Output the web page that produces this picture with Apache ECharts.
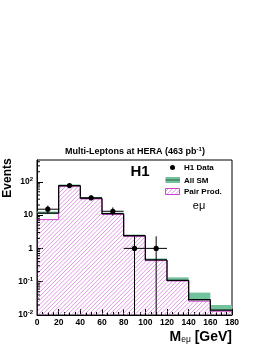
<!DOCTYPE html>
<html><head><meta charset="utf-8">
<script src="https://cdn.jsdelivr.net/npm/echarts@6/dist/echarts.min.js"></script>
<style>html,body{margin:0;padding:0;background:#fff}#c{width:270px;height:349px}</style>
</head><body><div id="c"></div>
<script>
// ---- data ----
const binLo = [0, 20, 40, 60, 80, 100, 120, 140, 160];
const binHi = [20, 40, 60, 80, 100, 120, 140, 160, 180];
const allSM = [11.5, 76, 32, 11, 2.4, 0.45, 0.11, 0.029, 0.014];
const smBandLo = [10.7, 72, 30.5, 10.3, 2.25, 0.42, 0.104, 0.027, 0.013];
const smBandHi = [12.8, 83, 34, 11.8, 2.6, 0.50, 0.135, 0.047, 0.020];
const pairProd = [7.3, 73, 30.5, 10.5, 2.3, 0.43, 0.105, 0.026, 0.013];
const dataX = [10, 30, 50, 70, 90, 110];
const dataY = [15, 77, 33, 13, 1, 1];
const dataXErr = [10, 10, 10, 10, 10, 10];
const dataYLo = [11.2, 68.5, 27.5, 9.6, 0.001, 0.001];
const dataYHi = [19.2, 86, 39, 17, 2.3, 2.3];
const yMinorTicks = [0.02,0.03,0.04,0.05,0.06,0.07,0.08,0.09,0.2,0.3,0.4,0.5,0.6,0.7,0.8,0.9,2,3,4,5,6,7,8,9,20,30,40,50,60,70,80,90,200,300,400];
const yMin = 0.01, yMax = 450;

const FONT = 'Liberation Sans, Arial, Helvetica, sans-serif';
const HATCH_COLOR = '#d77fdb';
const HATCH_STEP = 4.2;

// diagonal "/" hatch lines clipped to a rectangle, globally aligned (pure styling)
function hatchLines(x, y, w, h) {
  const out = [];
  // lines satisfy X + Y = const; align const to multiples of HATCH_STEP
  const base = x + y + h;
  let k0 = Math.ceil((base - h) / HATCH_STEP) * HATCH_STEP - base; // smallest k >= -h aligned
  for (let k = k0; k <= w; k += HATCH_STEP) {
    const t0 = Math.max(0, -k), t1 = Math.min(h, w - k);
    if (t1 <= t0) continue;
    out.push({type: 'line', silent: true,
      shape: {x1: x + k + t0, y1: y + h - t0, x2: x + k + t1, y2: y + h - t1},
      style: {stroke: HATCH_COLOR, lineWidth: 0.8}});
  }
  return out;
}

const binData = binLo.map((lo, i) => [lo, binHi[i], allSM[i], smBandLo[i], smBandHi[i], pairProd[i], i === 0 ? yMin : allSM[i-1], i === 0 ? yMin : pairProd[i-1]]);
const ptsData = dataX.map((x, i) => [x, dataY[i], dataXErr[i], dataYLo[i], dataYHi[i]]);

const chart = echarts.init(document.getElementById('c'), null, {renderer: 'canvas'});

function supLabel(v) {
  const e = Math.round(Math.log10(v));
  if (e === 0) return '1';
  if (e === 1) return '10';
  return '10{sup|' + e + '}';
}

chart.setOption({
  animation: false,
  backgroundColor: '#fff',
  grid: {left: 37, right: 38, top: 160, bottom: 34, show: true, borderColor: '#000', borderWidth: 1, backgroundColor: 'transparent'},
  xAxis: {
    type: 'value', min: 0, max: 180, interval: 20,
    axisLine: {show: true, onZero: false, lineStyle: {color: '#000', width: 1}},
    axisTick: {show: true, inside: true, length: 6, lineStyle: {color: '#000'}},
    minorTick: {show: true, splitNumber: 4, length: 3, lineStyle: {color: '#000'}},
    splitLine: {show: false}, minorSplitLine: {show: false},
    axisLabel: {color: '#000', fontSize: 8.5, fontWeight: 'bold', fontFamily: FONT, margin: 3, showMinLabel: true, showMaxLabel: true, hideOverlap: false}
  },
  yAxis: {
    type: 'log', logBase: 10, min: yMin, max: yMax,
    axisLine: {show: true, onZero: false, lineStyle: {color: '#000', width: 1}},
    axisTick: {show: true, inside: true, length: 6, lineStyle: {color: '#000'}},
    splitLine: {show: false}, minorTick: {show: false},
    axisLabel: {
      color: '#000', fontSize: 8.5, fontWeight: 'bold', fontFamily: FONT, margin: 4,
      showMaxLabel: false, hideOverlap: false,
      formatter: function (v) {
        const e = Math.log10(v);
        if (Math.abs(e - Math.round(e)) > 1e-6) return '';
        return supLabel(v);
      },
      rich: {sup: {fontSize: 6, fontWeight: 'bold', fontFamily: FONT, verticalAlign: 'top', padding: [0, 0, 5, 0], color: '#000'}}
    }
  },
  series: [
    { // SM uncertainty band
      type: 'custom', clip: true, data: binData, z: 2,
      renderItem: function (params, api) {
        const p0 = api.coord([api.value(0), api.value(4)]);
        const p1 = api.coord([api.value(1), api.value(3)]);
        return {type: 'rect', shape: {x: p0[0], y: p0[1], width: p1[0] - p0[0], height: p1[1] - p0[1]}, style: {fill: '#72c29b'}};
      }
    },
    { // pair production hatched
      type: 'custom', clip: true, data: binData, z: 3,
      renderItem: function (params, api) {
        const p0 = api.coord([api.value(0), api.value(5)]);
        const p1 = api.coord([api.value(1), yMin]);
        return {type: 'group', children: hatchLines(p0[0], p0[1], p1[0] - p0[0], p1[1] - p0[1])};
      }
    },
    { // pair production outline
      type: 'custom', clip: true, data: binData, z: 4,
      renderItem: function (params, api) {
        const a = api.coord([api.value(0), api.value(7)]);
        const b = api.coord([api.value(0), api.value(5)]);
        const c = api.coord([api.value(1), api.value(5)]);
        return {type: 'polyline', shape: {points: [a, b, c]}, style: {fill: null, stroke: '#d040d0', lineWidth: 1}};
      }
    },
    { // All SM line
      type: 'custom', clip: true, data: binData, z: 5,
      renderItem: function (params, api) {
        const a = api.coord([api.value(0), api.value(6)]);
        const b = api.coord([api.value(0), api.value(2)]);
        const c = api.coord([api.value(1), api.value(2)]);
        return {type: 'polyline', shape: {points: [a, b, c]}, style: {fill: null, stroke: '#000', lineWidth: 1.2}};
      }
    },
    { // data points
      type: 'custom', clip: true, data: ptsData, z: 6,
      renderItem: function (params, api) {
        const x = api.value(0), y = api.value(1), ex = api.value(2);
        const c = api.coord([x, y]);
        const l = api.coord([x - ex, y]);
        const r = api.coord([x + ex, y]);
        const lo = api.coord([x, api.value(3)]);
        const hi = api.coord([x, api.value(4)]);
        return {type: 'group', children: [
          {type: 'line', shape: {x1: l[0], y1: l[1], x2: r[0], y2: r[1]}, style: {stroke: '#000', lineWidth: 1}},
          {type: 'line', shape: {x1: lo[0], y1: lo[1], x2: hi[0], y2: hi[1]}, style: {stroke: '#000', lineWidth: 1}},
          {type: 'circle', shape: {cx: c[0], cy: c[1], r: 2.6}, style: {fill: '#000'}}
        ]};
      }
    },
    { // y minor ticks
      type: 'custom', clip: false, data: yMinorTicks.map(v => [0, v]), z: 7,
      renderItem: function (params, api) {
        const p = api.coord([0, api.value(1)]);
        return {type: 'line', shape: {x1: p[0], y1: p[1], x2: p[0] + 3, y2: p[1]}, style: {stroke: '#000', lineWidth: 1}};
      }
    }
  ],
  graphic: [
    {type: 'text', x: 135, y: 152, style: {text: 'Multi-Leptons at HERA (463 pb{sup|-1})', align: 'center', verticalAlign: 'middle', fontSize: 9, fontWeight: 'bold', fontFamily: FONT, fill: '#000',
      rich: {sup: {fontSize: 6, fontWeight: 'bold', fontFamily: FONT, verticalAlign: 'top', padding: [0, 0, 5, 0], fill: '#000'}}}},
    {type: 'text', x: 8, y: 178, rotation: Math.PI / 2, style: {text: 'Events', align: 'center', verticalAlign: 'middle', fontSize: 12, fontWeight: 'bold', fontFamily: FONT, fill: '#000'}},
    {type: 'text', x: 232, y: 337, style: {text: 'M{sub|eμ} [GeV]', align: 'right', verticalAlign: 'middle', fontSize: 14, fontWeight: 'bold', fontFamily: FONT, fill: '#000',
      rich: {sub: {fontSize: 8.5, fontWeight: 'normal', fontFamily: FONT, verticalAlign: 'bottom', padding: [5, 0, 0, 0], fill: '#000'}}}},
    {type: 'text', x: 140, y: 172, style: {text: 'H1', align: 'center', verticalAlign: 'middle', fontSize: 15, fontWeight: 'bold', fontFamily: FONT, fill: '#000'}},
    {type: 'circle', shape: {cx: 172.5, cy: 167.5, r: 2.5}, style: {fill: '#000'}},
    {type: 'text', x: 184, y: 168, style: {text: 'H1 Data', align: 'left', verticalAlign: 'middle', fontSize: 8, fontWeight: 'bold', fontFamily: FONT, fill: '#000'}},
    {type: 'rect', shape: {x: 165.5, y: 177, width: 14.5, height: 6}, style: {fill: '#72c29b'}},
    {type: 'line', shape: {x1: 165.5, y1: 180, x2: 180, y2: 180}, style: {stroke: '#2f5f46', lineWidth: 1}},
    {type: 'text', x: 184, y: 180.5, style: {text: 'All SM', align: 'left', verticalAlign: 'middle', fontSize: 8, fontWeight: 'bold', fontFamily: FONT, fill: '#000'}},
    {type: 'group', children: hatchLines(165.5, 188.5, 14, 6)},
    {type: 'rect', shape: {x: 165.5, y: 188.5, width: 14, height: 6}, style: {fill: null, stroke: '#d040d0', lineWidth: 1}},
    {type: 'text', x: 184, y: 192, style: {text: 'Pair Prod.', align: 'left', verticalAlign: 'middle', fontSize: 8, fontWeight: 'bold', fontFamily: FONT, fill: '#000'}},
    {type: 'text', x: 199, y: 206, style: {text: 'eμ', align: 'center', verticalAlign: 'middle', fontSize: 11, fontFamily: FONT, fill: '#000'}}
  ]
});
</script>
</body></html>
